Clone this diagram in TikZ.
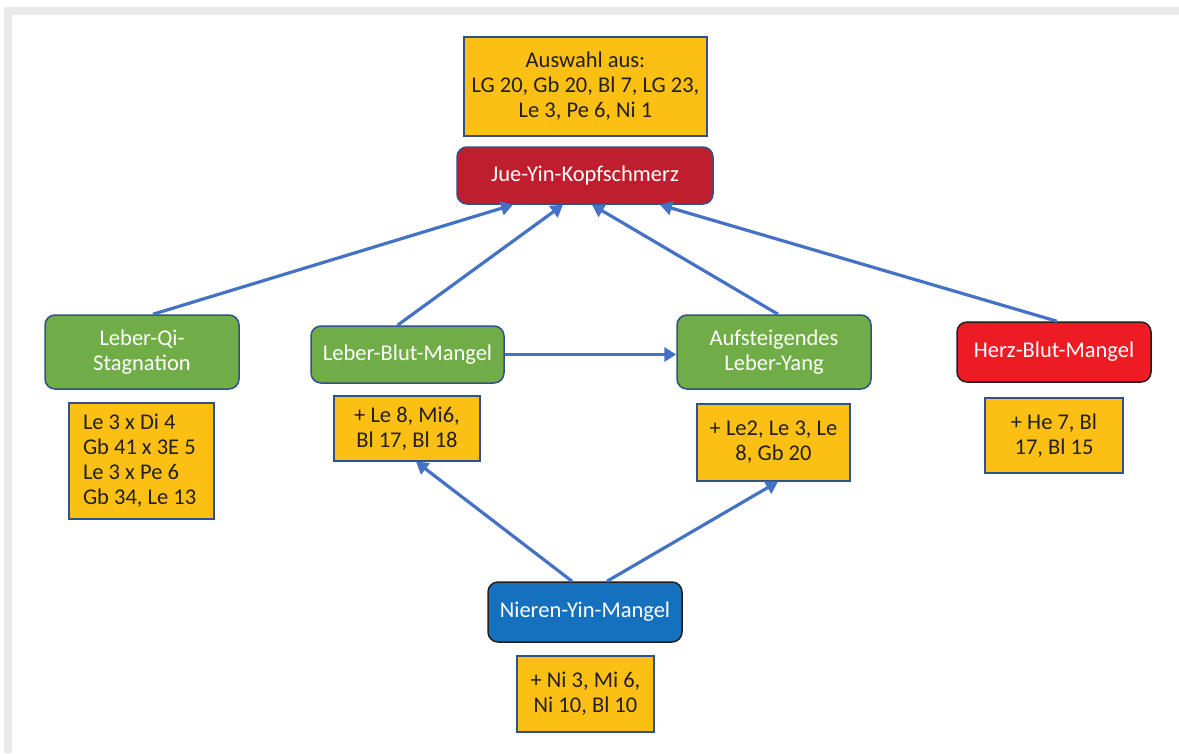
\documentclass[tikz,border=0pt]{standalone}
\usepackage{fontspec}
\setmainfont{Carlito}
\usepackage{tikz}
\usetikzlibrary{arrows.meta,positioning}
\definecolor{gelb}{RGB}{252,192,20}
\definecolor{gruen}{RGB}{112,173,71}
\definecolor{dunkelrot}{RGB}{190,30,45}
\definecolor{hellrot}{RGB}{237,28,36}
\definecolor{blau}{RGB}{21,112,190}
\definecolor{pfeil}{RGB}{68,114,196}
\definecolor{rand}{RGB}{47,82,143}
\definecolor{rahmen}{RGB}{234,234,234}
\definecolor{schrift}{RGB}{35,31,32}
\tikzset{syn/.style={rounded corners=10pt, draw=rand, line width=1.5pt, text=white, align=center, inner sep=0},
         pkt/.style={fill=gelb, draw=rand, line width=1.2pt, text=schrift, align=center, inner sep=0},
         pf/.style={pfeil, line width=3.2pt, -{Triangle[length=12pt,width=14pt]}}}

\begin{document}
\begin{tikzpicture}[x=1pt,y=-1pt,font=\fontsize{22.5}{25}\selectfont]
    \useasboundingbox (0,0) rectangle (1179,753);
    \fill[rahmen] (4,7) rectangle (1179,15);
    \fill[rahmen] (4,7) rectangle (12,753);

    \node[pkt,minimum width=243pt,minimum height=99pt](auswahl) at (585.5,86.5) {Auswahl aus:\\LG 20, Gb 20, Bl 7, LG 23,\\Le 3, Pe 6, Ni 1};
    \node[syn,fill=dunkelrot,minimum width=256pt,minimum height=57pt](jueyin) at (585,175.5) {Jue-Yin-Kopfschmerz};

    \node[syn,fill=gruen,minimum width=194pt,minimum height=74pt](qi) at (142,352) {Leber-Qi-\\Stagnation};
    \node[syn,fill=gruen,minimum width=193pt,minimum height=57pt](blut) at (407.5,354.5) {Leber-Blut-Mangel};
    \node[syn,fill=gruen,minimum width=194pt,minimum height=74pt](yang) at (774,352) {Aufsteigendes\\Leber-Yang};
    \node[syn,fill=hellrot,draw=schrift,minimum width=194pt,minimum height=60pt](herz) at (1054,352) {Herz-Blut-Mangel};
    \node[syn,fill=blau,draw=schrift,minimum width=194pt,minimum height=60pt](nieren) at (585,612) {Nieren-Yin-Mangel};

    \node[pkt,minimum width=145pt,minimum height=116pt](qiP) at (141.5,461) {\parbox{117pt}{Le 3 x Di 4\\Gb 41 x 3E 5\\Le 3 x Pe 6\\Gb 34, Le 13}};
    \node[pkt,minimum width=146pt,minimum height=65pt](blutP) at (407,428.5) {+ Le 8, Mi6,\\Bl 17, Bl 18};
    \node[pkt,minimum width=153pt,minimum height=77pt](yangP) at (773.5,442.5) {+ Le2, Le 3, Le\\8, Gb 20};
    \node[pkt,minimum width=138pt,minimum height=75pt](herzP) at (1054,435.5) {+ He 7, Bl\\17, Bl 15};
    \node[pkt,minimum width=137pt,minimum height=76pt](nierenP) at (585.5,694) {+ Ni 3, Mi 6,\\Ni 10, Bl 10};

    % zum Kopfschmerz
    \draw[pf] ([xshift=11pt]qi.north) -- ([xshift=-72pt]jueyin.south);
    \draw[pf] ([xshift=-10pt]blut.north) -- ([xshift=-22pt]jueyin.south);
    \draw[pf] ([xshift=4pt]yang.north) -- ([xshift=7pt]jueyin.south);
    \draw[pf] ([xshift=3pt]herz.north) -- ([xshift=75pt]jueyin.south);

    \draw[pf] (blut.east) -- (yang.west |- blut.east);
    \draw[pf] ([xshift=-13pt]nieren.north) -- ([xshift=9pt]blutP.south);
    \draw[pf] ([xshift=22pt]nieren.north) -- ([xshift=4.5pt]yangP.south);
\end{tikzpicture}
\end{document}
